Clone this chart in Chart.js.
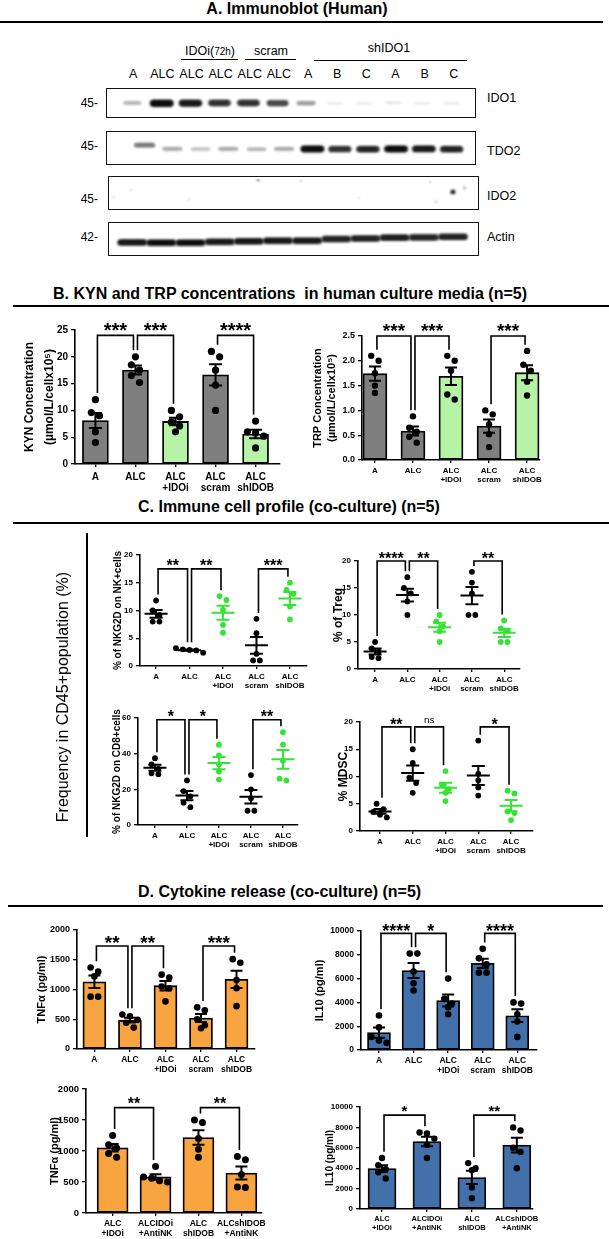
<!DOCTYPE html>
<html>
<head>
<meta charset="utf-8">
<script src="https://cdn.jsdelivr.net/npm/chart.js@4.4.1/dist/chart.umd.min.js"></script>
<style>
  body { margin: 0; background: #fff; }
  #fig { position: relative; width: 609px; height: 1239px; overflow: hidden;
         font-family: "Liberation Sans", Arial, Helvetica, sans-serif; color: #000; }
  .t { position: absolute; white-space: nowrap; line-height: 1; color: #000; }
  .rule { position: absolute; background: #000; }
  canvas { position: absolute; }
</style>
</head>
<body>
<div id="fig"></div>
<script>
// ---- A. immunoblot ----
const lanes = ['A', 'ALC', 'ALC', 'ALC', 'ALC', 'ALC', 'A', 'B', 'C', 'A', 'B', 'C'];
const ido1Bands = [0.3, 1.0, 0.95, 0.85, 0.85, 0.75, 0.4, 0.08, 0.08, 0.1, 0.08, 0.08];
const tdo2Bands = [0.55, 0.35, 0.25, 0.35, 0.3, 0.35, 1.0, 0.85, 0.9, 1.0, 0.95, 0.9];
const actinBands = [0.95, 1.0, 1.0, 0.95, 0.95, 0.95, 0.95, 0.9, 0.9, 0.92, 0.9, 0.9];
const actinLevel = [0.38, 0.37, 0.37, 0.4, 0.42, 0.44, 0.44, 0.5, 0.52, 0.55, 0.56, 0.58];
// IDO2 specks: lane, height in box, darkness, size
const ido2Specks = [[11.05, 0.54, 0.95, 5], [11.46, 0.67, 0.5, 2.5], [4.33, 0.97, 0.6, 3], [10.47, 0.19, 0.5, 2],
  [10.27, 0.89, 0.4, 2], [-0.05, 0.6, 0.3, 2], [-0.66, 0.36, 0.3, 2], [1.93, 0.28, 0.3, 2], [5.8, 0.94, 0.4, 2], [7.8, 0.33, 0.25, 2]];

// ---- B / C / D categories ----
const catsMain = ['A', 'ALC', ['ALC', '+IDOi'], ['ALC', 'scram'], ['ALC', 'shIDOB']];
const catsNK = [['ALC', '+IDOi'], ['ALCIDOi', '+AntiNK'], ['ALC', 'shIDOB'], ['ALCshIDOB', '+AntiNK']];

// ---- B. KYN / TRP ----
const kyn = [[12, 9.6, 9.0, 6.0, 4.0], [20, 18.5, 17.5, 16.5, 15.2], [10, 8.8, 7.8, 7.1, 6.0], [21, 20, 17.5, 14.7, 10], [8, 6, 5.8, 5.2, 3]];
const trp = [[2.1, 2.0, 1.75, 1.5, 1.35], [0.88, 0.65, 0.57, 0.47, 0.35], [2.1, 2.0, 1.8, 1.32, 1.22], [1.0, 0.92, 0.72, 0.52, 0.26], [2.2, 1.92, 1.8, 1.58, 1.3]];
const kynSig = [[0, 1, 24, '***'], [1, 2, 24, '***'], [3, 4, 24, '****']];
const trpSig = [[0, 1, 2.5, '***'], [1, 2, 2.5, '***'], [3, 4, 2.5, '***']];

// ---- C. immune cells ----
const nkNKG2D = [[11.8, 10.0, 9.2, 8.0, 8.0], [3.2, 3.0, 2.9, 2.8, 2.4], [12.6, 11.9, 10.1, 7.4, 6.0], [8.5, 5.9, 2.2, 1.0, 1.0], [15.0, 13.7, 13.0, 10.7, 8.4]];
const treg = [[5.0, 3.8, 3.2, 2.2, 2.0], [17.0, 15.0, 14.0, 12.5, 10.0], [10, 8.8, 7.9, 7.0, 5.0], [18, 16, 14, 10, 10], [9.0, 7.5, 7.0, 5.0, 5.0]];
const cd8NKG2D = [[37.5, 34, 31.5, 29, 28.5], [25, 19, 16, 12.5, 10], [45, 39, 34, 30, 25.5], [28, 20, 15, 8, 8], [52, 45, 36, 26, 25]];
const mdsc = [[5.0, 4.0, 3.5, 3.0, 2.5], [15, 12.5, 9.8, 8.8, 7.0], [11, 8.5, 7.7, 7.0, 5.5], [16.6, 10.5, 9.3, 8.0, 6.5], [7.4, 6.9, 3.6, 3.3, 2.0]];
const nkSig = [[0, 1, 17.5, '**'], [1, 2, 17.5, '**'], [3, 4, 17.5, '***']];
const tregSig = [[0, 1, 20, '****'], [1, 2, 20, '**'], [3, 4, 20, '**']];
const cd8Sig = [[0, 1, 59, '*'], [1, 2, 59, '*'], [3, 4, 59, '**']];
const mdscSig = [[0, 1, 19.1, '**'], [1, 2, 19.1, 'ns'], [3, 4, 19.1, '*']];

// ---- D. cytokines ----
const tnf = [[1370, 1300, 1220, 880, 880], [580, 550, 490, 440, 360], [1250, 1200, 1050, 1020, 800], [700, 650, 500, 400, 350], [1510, 1450, 1160, 1020, 720]];
const il10 = [[2900, 1900, 1100, 800, 600], [8100, 8100, 6600, 5600, 5000], [6000, 4300, 3900, 3600, 3000], [8500, 7700, 7200, 6500, 6500], [4000, 3900, 3000, 2400, 1100]];
const tnfNK = [[1250, 1100, 1050, 960, 900], [750, 580, 560, 520, 500], [1500, 1460, 1200, 1030, 900], [910, 860, 620, 420, 410]];
const il10NK = [[5000, 4300, 3900, 3600, 3000], [7500, 7400, 6900, 6300, 5000], [4500, 4000, 3800, 2100, 1050], [8000, 7700, 6000, 5600, 4000]];
const tnfSig = [[0, 1, 1730, '**'], [1, 2, 1730, '**'], [3, 4, 1730, '***']];
const il10Sig = [[0, 1, 9800, '****'], [1, 2, 9800, '*'], [3, 4, 9800, '****']];
const tnfNKSig = [[0, 1, 1700, '**'], [2, 3, 1700, '**']];
const il10NKSig = [[0, 1, 9200, '*'], [2, 3, 9200, '**']];

const GREY = '#7f7f7f', LGREEN = '#b7f3a6', GREEN = '#36e236', ORANGE = '#f8a441', BLUE = '#4170aa', BLACK = '#000';

const FONT = "'Liberation Sans', Arial, Helvetica, sans-serif";
Chart.defaults.font.family = FONT;
Chart.defaults.color = '#000';
Chart.defaults.animation = false;
Chart.defaults.responsive = false;
Chart.defaults.devicePixelRatio = 1;
Chart.defaults.plugins.legend.display = false;
Chart.defaults.plugins.tooltip.enabled = false;

const fig = document.getElementById('fig');

function addCanvas(x, y, w, h, css) {
  const c = document.createElement('canvas');
  c.width = Math.round(w);
  c.height = Math.round(h);
  c.style.cssText = `left:${x}px;top:${y}px;` + (css || '');
  fig.appendChild(c);
  return c;
}
function addText(html, x, y, css, ax) {
  const d = document.createElement('div');
  d.className = 't';
  d.innerHTML = html;
  d.style.cssText = `left:${x}px;top:${y}px;transform:translate(${ax === undefined ? -50 : ax}%,-50%);` + (css || '');
  fig.appendChild(d);
  return d;
}
function addRule(x, y, w, h) {
  const d = document.createElement('div');
  d.className = 'rule';
  d.style.cssText = `left:${x}px;top:${y}px;width:${w}px;height:${h}px;`;
  fig.appendChild(d);
}

const mean = a => a.reduce((s, v) => s + v, 0) / a.length;
const sem = a => {
  const m = mean(a);
  return Math.sqrt(a.reduce((s, v) => s + (v - m) ** 2, 0) / (a.length - 1) / a.length);
};

// spread close values sideways like a column scatter
function swarm(vals, pxUnit, r) {
  const idx = vals.map((v, i) => i).sort((a, b) => vals[b] - vals[a]);
  const offs = vals.map(() => 0);
  let row = [];
  const flush = () => {
    row.forEach((k, j) => { offs[k] = (j - (row.length - 1) / 2) * (2 * r + 1); });
    row = [];
  };
  idx.forEach(k => {
    if (row.length && (vals[row[0]] - vals[k]) * pxUnit > 2 * r) flush();
    row.push(k);
  });
  flush();
  return offs;
}

function groupChart(L, cats, groups, fills, dots, sig, yTitle) {
  const padTop = 28, padR = 18, xAxisH = 34;
  const yW = L.left - L.titleLeft;
  const plotW = L.right - L.left, plotH = L.bottom - L.top;
  const cv = addCanvas(L.titleLeft, L.top - padTop, yW + plotW + padR, padTop + plotH + xAxisH);
  const pxCat = plotW / (L.xMax - L.xMin);
  const pxUnit = plotH / L.yMax;
  const stats = groups.map(g => ({ m: mean(g), s: sem(g), top: Math.max(...g) }));
  const ds = [];
  groups.forEach((g, i) => {
    const offs = swarm(g, pxUnit, L.dotR);
    ds.push({
      type: 'scatter', order: 1, clip: false,
      data: g.map((v, k) => ({ x: i + offs[k] / pxCat, y: v })),
      pointRadius: L.dotR, pointHoverRadius: L.dotR, pointBackgroundColor: dots[i], pointBorderWidth: 0
    });
  });
  if (L.bars) {
    ds.push({
      type: 'bar', order: 5, data: stats.map((s, i) => ({ x: i, y: s.m })),
      backgroundColor: fills, borderColor: '#000', borderWidth: 1.8, borderSkipped: false, barThickness: L.barW
    });
  }
  const inset = 2 / pxCat;
  const leg = k => Math.max(stats[k].top, stats[k].m + stats[k].s) + (L.dotR + 3) / pxUnit;
  sig.forEach(([a, b, level]) => {
    ds.push({
      type: 'line', order: 3, clip: false, borderColor: '#000', borderWidth: 1.6,
      pointRadius: 0, tension: 0, fill: false,
      data: [{ x: a + inset, y: leg(a) }, { x: a + inset, y: level }, { x: b - inset, y: level }, { x: b - inset, y: leg(b) }]
    });
  });

  const deco = {
    id: 'deco',
    afterDatasetsDraw(chart) {
      const { ctx } = chart;
      const xs = chart.scales.x, ys = chart.scales.y;
      ctx.save();
      ctx.lineWidth = L.errLW;
      stats.forEach((s, i) => {
        const px = xs.getPixelForValue(i);
        const pm = ys.getPixelForValue(s.m);
        const p1 = ys.getPixelForValue(s.m + s.s), p0 = ys.getPixelForValue(Math.max(0, s.m - s.s));
        ctx.strokeStyle = L.bars ? '#000' : dots[i];
        ctx.beginPath();
        ctx.moveTo(px, p1); ctx.lineTo(px, p0);
        ctx.moveTo(px - L.cap, p1); ctx.lineTo(px + L.cap, p1);
        ctx.moveTo(px - L.cap, p0); ctx.lineTo(px + L.cap, p0);
        if (!L.bars) { ctx.moveTo(px - L.meanW, pm); ctx.lineTo(px + L.meanW, pm); }
        ctx.stroke();
      });
      ctx.fillStyle = '#000';
      ctx.textAlign = 'center';
      ctx.textBaseline = 'alphabetic';
      sig.forEach(([a, b, level, lab]) => {
        const xm = (xs.getPixelForValue(a) + xs.getPixelForValue(b)) / 2;
        const yc = ys.getPixelForValue(level) - L.starGap;
        if (lab.includes('*')) {
          ctx.font = `bold ${L.starFont}px ${FONT}`;
          ctx.fillText(lab, xm, yc + 0.6 * L.starFont);
        } else {
          ctx.font = `${L.starFont * 0.62}px ${FONT}`;
          ctx.fillText(lab, xm, yc + 0.27 * L.starFont * 0.62);
        }
      });
      ctx.restore();
    }
  };

  return new Chart(cv, {
    type: 'bar',
    data: { datasets: ds },
    options: {
      layout: { padding: { top: padTop, right: padR, left: 0, bottom: 0 } },
      scales: {
        x: {
          type: 'linear', min: L.xMin, max: L.xMax, offset: false,
          afterFit: s => { s.height = xAxisH; },
          afterBuildTicks: s => { s.ticks = cats.map((c, i) => ({ value: i })); },
          ticks: {
            autoSkip: false, maxRotation: 0, minRotation: 0, padding: L.labPad,
            font: { size: L.labFont, weight: 'bold', lineHeight: 1.15 },
            callback: v => cats[v]
          },
          grid: { offset: false, drawOnChartArea: false, drawTicks: true, tickLength: 3, color: '#000', lineWidth: 1.3 },
          border: { display: true, color: '#000', width: 1.6 }
        },
        y: {
          min: 0, max: L.yMax,
          afterFit: s => { s.width = yW; },
          ticks: {
            stepSize: L.yStep, padding: 3,
            font: { size: L.tickFont, weight: 'bold' },
            callback: v => (L.dec ? v.toFixed(L.dec) : v)
          },
          grid: { drawOnChartArea: false, drawTicks: true, tickLength: 4, color: '#000', lineWidth: 1.3 },
          border: { display: true, color: '#000', width: 1.6 },
          title: { display: true, text: yTitle, padding: 0, font: { size: L.titleFont, weight: 'bold', lineHeight: L.titleLH } }
        }
      }
    },
    plugins: [deco]
  });
}

// ---------- blot rows ----------
function bandImg(a, w, h) {
  const c = document.createElement('canvas');
  c.width = Math.ceil(w + 8);
  c.height = Math.ceil(h + 8);
  const g = c.getContext('2d');
  g.filter = 'blur(1.2px)';
  g.fillStyle = `rgba(12,12,12,${a})`;
  g.beginPath();
  g.roundRect(4, 4, w, h, h / 2);
  g.fill();
  return c;
}
function blotRow(box, lane0, lane11, pts) {
  const bw = 1.5;
  const cv = addCanvas(box[0], box[1], box[2] - 2 * bw, box[3] - 2 * bw, `border:${bw}px solid #111;`);
  const inner0 = box[0] + bw, innerW = box[2] - 2 * bw;
  const step = (lane11 - lane0) / 11;
  const xMin = (inner0 - lane0) / step, xMax = (inner0 + innerW - lane0) / step;
  const chart = new Chart(cv, {
    type: 'scatter',
    data: { datasets: [{
      data: pts.map(p => ({ x: p.x, y: p.y })),
      pointStyle: c => pts[c.dataIndex].img, pointRadius: 1, pointHoverRadius: 1
    }] },
    options: {
      layout: { padding: 0 },
      scales: { x: { type: 'linear', min: xMin, max: xMax, display: false }, y: { min: 0, max: 1, display: false } }
    }
  });
  chart._left = inner0;
  return chart;
}

// ---------- A ----------
addText('A. Immunoblot (Human)', 297, 9, 'font-size:16px;font-weight:bold;');
addRule(0, 21, 603, 2);

const ido1 = blotRow([106, 88, 373, 33], 131.5, 455.5,
  ido1Bands.map((a, i) => ({ x: i, y: 0.49, img: bandImg(a, 16 + 8 * a, 2.5 + 5.5 * a) })));
blotRow([106, 131, 373, 37], 144, 456,
  tdo2Bands.map((a, i) => ({ x: i, y: i === 0 ? 0.59 : 0.46, img: bandImg(a, 18 + 6 * a, 2.5 + 5 * a) })));
blotRow([108, 176, 374, 37], 131.5, 455.5,
  ido2Specks.map(([x, y, a, s]) => ({ x, y, img: bandImg(a, s, s) })));
blotRow([108, 222, 374, 37], 131, 457,
  actinBands.map((a, i) => ({ x: i, y: actinLevel[i], img: bandImg(a, 30, 7) })));

lanes.forEach((lab, i) => {
  addText(lab, ido1._left + ido1.scales.x.getPixelForValue(i), 73.5, 'font-size:12.5px;');
});
addText('IDOi(<span style="font-size:10px">72h</span>)', 210, 51, 'font-size:12.5px;');
addRule(181, 58.5, 57, 1.2);
addText('scram', 271, 51, 'font-size:12.5px;');
addRule(245, 58.5, 51, 1.2);
addText('shIDO1', 389, 48, 'font-size:12.5px;');
addRule(314, 59.5, 153, 1.2);
[['45-', 102.5], ['45-', 146], ['45-', 199], ['42-', 237]].forEach(([s, y]) => addText(s, 98, y, 'font-size:12px;', -100));
[['IDO1', 97.5], ['TDO2', 150.5], ['IDO2', 196], ['Actin', 237]].forEach(([s, y]) => addText(s, 487, y, 'font-size:12.5px;', 0));

// ---------- B ----------
addText('B. KYN and TRP concentrations&nbsp; in human culture media (n=5)', 53, 294, 'font-size:16px;font-weight:bold;', 0);
addRule(13, 304.5, 596, 2);
groupChart({ left: 75, top: 330, right: 280, bottom: 464, xMin: -0.51, xMax: 4.61, yMax: 25, yStep: 5, bars: true, barW: 26,
  titleLeft: 20, titleFont: 12, titleLH: 1.67, tickFont: 10, labFont: 10, labPad: 4, starFont: 20, starGap: 10, dotR: 3.6, cap: 6.5, errLW: 2 },
  catsMain, kyn, [GREY, GREY, LGREEN, GREY, LGREEN], [BLACK, BLACK, BLACK, BLACK, BLACK], kynSig,
  ['KYN Concentration', '(\u00b5mol/L/cellx10\u2075)']);
groupChart({ left: 362, top: 336, right: 540, bottom: 460, xMin: -0.34, xMax: 4.34, yMax: 2.5, yStep: 0.5, dec: 1, bars: true, barW: 24,
  titleLeft: 311, titleFont: 11, titleLH: 1.27, tickFont: 9, labFont: 8, labPad: 3, starFont: 19, starGap: 10, dotR: 3.2, cap: 6, errLW: 2 },
  catsMain, trp, [GREY, GREY, LGREEN, GREY, LGREEN], [BLACK, BLACK, BLACK, BLACK, BLACK], trpSig,
  ['TRP Concentration', '(\u00b5mol/L/cellx10\u2075)']);

// ---------- C ----------
addText('C. Immune cell profile (co-culture) (n=5)', 138, 507, 'font-size:16px;font-weight:bold;', 0);
addRule(13, 522, 596, 2);
addRule(86, 533, 1.6, 304);
addText('Frequency in CD45+population (%)', 63, 697, 'font-size:16px;filter:grayscale(1);transform:translate(-50%,-50%) rotate(-90deg);');
const dotCols = [BLACK, BLACK, GREEN, BLACK, GREEN];
const cBase = { bars: false, tickFont: 8, labFont: 8, labPad: 3, starFont: 16, starGap: 7, dotR: 2.9, cap: 6.5, meanW: 11.5, errLW: 2, titleLH: 1.2 };
groupChart(Object.assign({}, cBase, { left: 140, top: 555, right: 307, bottom: 666, xMin: -0.48, xMax: 4.51, yMax: 20, yStep: 5, titleLeft: 112, titleFont: 10 }),
  catsMain, nkNKG2D, null, dotCols, nkSig, '% of NKG2D on NK+cells');
groupChart(Object.assign({}, cBase, { left: 358, top: 561, right: 520, bottom: 669, xMin: -0.53, xMax: 4.49, yMax: 20, yStep: 5, titleLeft: 331, titleFont: 12 }),
  catsMain, treg, null, dotCols, tregSig, '% of Treg');
groupChart(Object.assign({}, cBase, { left: 138, top: 718, right: 298, bottom: 825, xMin: -0.53, xMax: 4.47, yMax: 60, yStep: 20, titleLeft: 111, titleFont: 10 }),
  catsMain, cd8NKG2D, null, dotCols, cd8Sig, '% of NKG2D on CD8+cells');
groupChart(Object.assign({}, cBase, { left: 360, top: 722, right: 533, bottom: 831, xMin: -0.61, xMax: 4.67, yMax: 20, yStep: 5, titleLeft: 336, titleFont: 12 }),
  catsMain, mdsc, null, dotCols, mdscSig, '% MDSC');

// ---------- D ----------
addText('D. Cytokine release (co-culture) (n=5)', 138, 892, 'font-size:16px;font-weight:bold;', 0);
addRule(8, 905, 595, 2);
const blk5 = [BLACK, BLACK, BLACK, BLACK, BLACK];
groupChart({ left: 77, top: 930, right: 255, bottom: 1049, xMin: -0.49, xMax: 4.52, yMax: 2000, yStep: 500, bars: true, barW: 23,
  titleLeft: 35, titleFont: 11, titleLH: 1.2, tickFont: 9, labFont: 8.5, labPad: 3, starFont: 19, starGap: 8, dotR: 3.3, cap: 6, errLW: 2 },
  catsMain, tnf, Array(5).fill(ORANGE), blk5, tnfSig, 'TNF\u03b1 (pg/ml)');
groupChart({ left: 361, top: 931, right: 537, bottom: 1050, xMin: -0.52, xMax: 4.57, yMax: 10000, yStep: 2000, bars: true, barW: 23,
  titleLeft: 313, titleFont: 11, titleLH: 1.2, tickFont: 8.5, labFont: 8.5, labPad: 3, starFont: 18, starGap: 7, dotR: 3.3, cap: 6, errLW: 2 },
  catsMain, il10, Array(5).fill(BLUE), blk5, il10Sig, 'IL10 (pg/ml)');
groupChart({ left: 86, top: 1089, right: 262, bottom: 1213, xMin: -0.62, xMax: 3.48, yMax: 2000, yStep: 500, bars: true, barW: 31,
  titleLeft: 48, titleFont: 11, titleLH: 1.2, tickFont: 9.5, labFont: 8.5, labPad: 3, starFont: 16, starGap: 8, dotR: 3.5, cap: 6, errLW: 2 },
  catsNK, tnfNK, Array(4).fill(ORANGE), blk5, tnfNKSig, 'TNF\u03b1 (pg/ml)');
groupChart({ left: 360, top: 1107, right: 533, bottom: 1209, xMin: -0.49, xMax: 3.36, yMax: 10000, yStep: 2000, bars: true, barW: 28,
  titleLeft: 324, titleFont: 10, titleLH: 1.2, tickFont: 8, labFont: 7.5, labPad: 3, starFont: 15, starGap: 8, dotR: 3.2, cap: 6, errLW: 2 },
  catsNK, il10NK, Array(4).fill(BLUE), blk5, il10NKSig, 'IL10 (pg/ml)');
</script>
</body>
</html>
